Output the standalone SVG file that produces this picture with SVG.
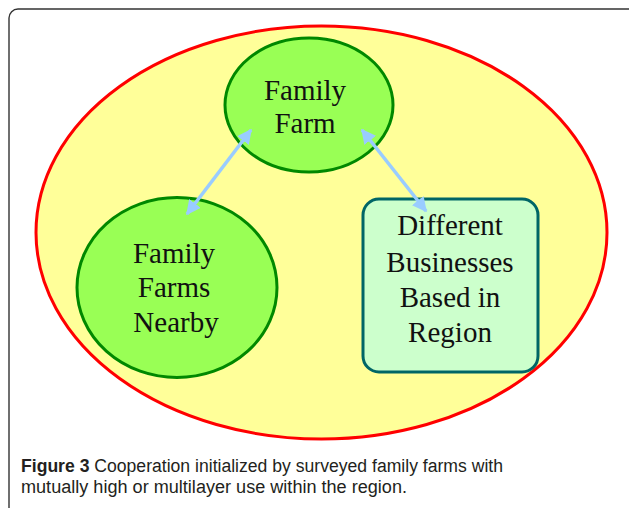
<svg xmlns="http://www.w3.org/2000/svg" width="629" height="508" viewBox="0 0 629 508">
<defs>
<style>
.node-text{font-family:"Liberation Serif","Times New Roman",serif;font-size:29px;fill:#111;text-anchor:middle}
.green{fill:#99ff55;stroke:#008800;stroke-width:3}
.conn{stroke:#99ccff;stroke-width:3.5;fill:none;marker-start:url(#ah);marker-end:url(#ah)}
.cap{font-family:"Liberation Sans",Arial,sans-serif;font-size:18px;fill:#231f20}
</style>
<marker id="ah" viewBox="0 0 10 10" refX="9" refY="5" markerWidth="4.2" markerHeight="4.2" orient="auto-start-reverse" markerUnits="strokeWidth">
<path d="M0,0 L10,5 L0,10 Z" fill="#99ccff"/>
</marker>
</defs>
<rect width="629" height="508" fill="#fff"/>
<rect x="9" y="9" width="650" height="540" rx="9" fill="#fff" stroke="#333" stroke-width="1.4"/>
<g id="region">
<ellipse cx="321.5" cy="232.5" rx="285.5" ry="206.5" fill="#ffff99" stroke="#ff0000" stroke-width="3"/>
</g>
<g id="family-farm">
<ellipse class="green" cx="309" cy="105" rx="84" ry="67"/>
<text class="node-text" x="305" y="100">Family</text>
<text class="node-text" x="305" y="133">Farm</text>
</g>
<g id="family-farms-nearby">
<ellipse class="green" cx="177" cy="287.5" rx="100" ry="90"/>
<text class="node-text" x="174" y="263">Family</text>
<text class="node-text" x="174" y="297">Farms</text>
<text class="node-text" x="176" y="332">Nearby</text>
</g>
<g id="different-businesses">
<rect x="363" y="199" width="175" height="173" rx="16" fill="#ccffcc" stroke="#006666" stroke-width="3"/>
<text class="node-text" x="450" y="235">Different</text>
<text class="node-text" x="450" y="272">Businesses</text>
<text class="node-text" x="450" y="307">Based in</text>
<text class="node-text" x="450" y="342">Region</text>
</g>
<g id="connectors">
<line class="conn" x1="187" y1="214" x2="251" y2="130"/>
<line class="conn" x1="362" y1="130" x2="426" y2="211"/>
</g>
<g id="caption">
<text class="cap" x="21" y="472" textLength="482" lengthAdjust="spacingAndGlyphs"><tspan font-weight="bold">Figure 3</tspan> Cooperation initialized by surveyed family farms with</text>
<text class="cap" x="21" y="493" textLength="386" lengthAdjust="spacingAndGlyphs">mutually high or multilayer use within the region.</text>
</g>
</svg>
